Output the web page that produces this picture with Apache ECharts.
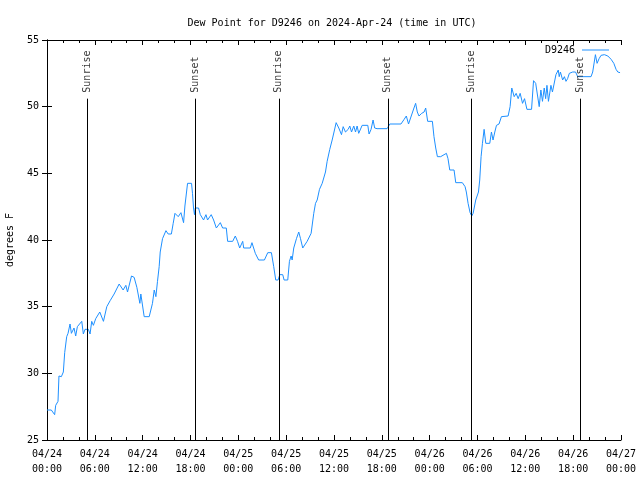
<!DOCTYPE html>
<html>
<head>
<meta charset="utf-8">
<script src="https://cdn.jsdelivr.net/npm/echarts@6/dist/echarts.min.js"></script>
<style>html,body{margin:0;padding:0;background:#fff;}#c{width:640px;height:480px;}</style>
</head>
<body>
<div id="c"></div>
<script>
// hours since 2024-04-24 00:00 UTC
var hours = [0.0,0.54,0.96,1.09,1.38,1.5,1.8,2.05,2.22,2.47,2.64,2.89,3.06,3.39,3.6,3.81,4.02,4.36,4.56,4.77,5.19,5.4,5.61,5.82,6.11,6.62,7.08,7.5,7.92,8.42,9.05,9.55,9.89,10.1,10.6,10.93,11.27,11.48,11.65,11.77,12.02,12.19,12.82,13.03,13.23,13.45,13.66,13.86,14.07,14.2,14.49,14.92,15.2,15.6,15.83,16.05,16.46,16.8,17.13,17.3,17.63,18.13,18.25,18.38,18.5,18.6,19.01,19.23,19.64,19.94,20.14,20.6,20.9,21.24,21.74,22.03,22.49,22.66,23.29,23.62,23.9,24.17,24.55,24.67,25.5,25.71,26.13,26.55,27.27,27.69,28.15,28.44,28.69,28.99,29.2,29.57,29.74,30.2,30.41,30.62,30.75,30.95,31.29,31.58,31.8,32.08,32.3,32.63,33.13,33.46,33.68,33.89,34.18,34.52,34.7,34.93,35.14,35.47,35.77,36.06,36.27,36.6,36.94,37.15,37.44,37.78,37.98,38.2,38.48,38.7,38.9,39.1,39.53,40.24,40.4,40.65,40.9,41.1,41.4,42.66,43.0,44.4,44.8,45.07,45.35,45.6,46.03,46.24,46.45,46.66,47.0,47.3,47.5,47.75,48.34,48.54,48.76,48.97,49.38,49.6,50.1,50.3,50.52,51.06,51.27,52.1,52.44,52.6,52.82,53.07,53.28,53.45,53.78,54.12,54.28,54.45,54.62,54.83,55.04,55.54,55.75,55.95,56.17,56.38,56.7,57.0,57.84,58.09,58.3,58.6,58.85,59.1,59.35,59.65,59.9,60.2,60.78,61.03,61.3,61.5,61.74,61.95,62.15,62.37,62.55,62.71,62.9,63.21,63.4,63.6,63.84,64.13,64.25,64.4,64.68,64.9,65.1,65.3,65.52,65.94,66.3,66.57,68.24,68.45,68.6,68.79,69.0,69.25,69.5,69.92,70.35,70.76,71.1,71.38,71.6,71.88];
var dewPoint = [27.25,27.25,26.9,27.6,27.9,29.8,29.75,30.1,31.55,32.75,33.0,33.7,33.0,33.4,32.8,33.5,33.5,33.9,32.95,33.3,33.3,32.95,33.9,33.6,34.1,34.6,33.9,35.0,35.45,35.95,36.7,36.25,36.6,36.1,37.3,37.2,36.45,36.4,35.25,35.95,36.0,34.25,34.25,34.4,35.25,36.25,35.75,36.9,38.0,39.1,40.1,40.7,40.45,40.45,41.25,42.0,41.75,42.05,41.3,42.55,44.25,44.25,43.5,42.4,41.9,42.4,42.4,41.9,41.5,41.9,41.5,41.9,41.5,40.9,41.3,40.9,40.9,39.9,39.9,40.3,39.9,39.4,39.9,39.4,39.4,39.8,39.0,38.5,38.5,39.05,39.05,38.0,37.0,37.0,37.4,37.4,37.0,37.0,38.4,38.8,38.5,39.4,40.1,40.6,40.1,39.4,39.45,39.9,40.5,42.0,42.75,43.0,43.8,44.25,44.3,45.1,45.9,46.8,47.5,48.25,48.8,48.4,47.9,48.5,48.1,48.3,48.55,48.1,48.55,48.1,48.55,48.0,48.6,48.6,47.95,48.3,49.0,48.4,48.35,48.35,48.7,48.7,49.05,49.3,48.7,48.7,49.9,50.25,49.6,49.3,49.5,49.6,49.9,48.9,48.9,47.75,46.9,46.25,46.25,46.3,46.5,46.1,45.25,45.25,44.3,44.3,44.0,43.6,42.75,42.05,41.8,42.0,43.0,43.6,44.5,46.25,47.25,48.3,47.25,47.25,48.1,47.5,48.1,48.6,48.7,49.25,49.3,50.0,51.4,50.75,51.0,50.6,51.0,50.25,50.6,49.8,49.8,51.95,51.75,51.7,50.0,51.25,50.4,51.4,50.6,51.6,50.4,51.6,51.1,51.25,52.4,52.75,52.25,52.6,52.0,52.25,51.9,52.1,52.5,52.6,52.6,52.25,52.25,52.6,52.5,53.9,53.25,53.6,53.85,53.9,53.8,53.55,53.25,52.8,52.6,52.55];
var sunEventHours = [5.06, 18.6, 29.07, 42.76, 53.19, 66.89];
var sunEventNames = ["Sunrise","Sunset","Sunrise","Sunset","Sunrise","Sunset"];
var yTicks = [25,30,35,40,45,50,55];

var FONT = "DejaVu Sans Mono";
var LINE_TOP = 50.6;

function fmtX(v){
  var day = 24 + Math.floor(v/24);
  var hh = v % 24;
  var dd = day < 10 ? "0"+day : ""+day;
  var h2 = hh < 10 ? "0"+hh : ""+hh;
  return "04/" + dd + "\n" + h2 + ":00";
}

var seriesData = hours.map(function(h,i){ return [h, dewPoint[i]]; });
var markData = sunEventHours.map(function(h){ return [{coord:[h,25]},{coord:[h,LINE_TOP]}]; });
var labelData = sunEventHours.map(function(h,i){ return {value:[h, LINE_TOP], name: sunEventNames[i]}; });

var axisCommon = {
  type:'value', min:0, max:72, interval:6,
  axisLine:{show:true, lineStyle:{color:'#000', width:1}},
  axisTick:{show:true, inside:true, length:5, lineStyle:{color:'#000'}},
  minorTick:{show:true, splitNumber:3, length:3, lineStyle:{color:'#000'}},
  splitLine:{show:false}
};
var yCommon = {
  type:'value', min:25, max:55, interval:5,
  axisLine:{show:true, lineStyle:{color:'#000', width:1}},
  axisTick:{show:true, inside:true, length:5, lineStyle:{color:'#000'}},
  splitLine:{show:false}
};

var chart = echarts.init(document.getElementById('c'), null, {renderer:'canvas'});
chart.setOption({
  animation:false,
  backgroundColor:'#fff',
  title:{
    text:'Dew Point for D9246 on 2024-Apr-24 (time in UTC)',
    left:327, top:13, textAlign:'center',
    textStyle:{fontFamily:FONT, fontSize:10, fontWeight:'normal', color:'#000'}
  },
  legend:{
    data:[{name:'D9246', icon:'rect'}], right:26, top:40, align:'right',
    itemWidth:27, itemHeight:1, itemGap:5,
    itemStyle:{color:'#1e90ff'},
    textStyle:{fontFamily:FONT, fontSize:10, color:'#000', padding:[0,2,0,0]}
  },
  grid:{left:47, right:19, top:40, bottom:40, outerBoundsMode:'none', containLabel:false},
  xAxis:[
    Object.assign({}, axisCommon, {position:'bottom',
      axisLabel:{show:true, formatter:fmtX, fontFamily:FONT, fontSize:10, color:'#000', lineHeight:15, margin:7}}),
    Object.assign({}, axisCommon, {position:'top', axisLabel:{show:false}})
  ],
  yAxis:[
    Object.assign({}, yCommon, {position:'left', name:'degrees F', nameLocation:'middle', nameGap:32, nameRotate:90,
      nameTextStyle:{fontFamily:FONT, fontSize:10, color:'#000'},
      axisLabel:{show:true, fontFamily:FONT, fontSize:10, color:'#000', margin:8}}),
    Object.assign({}, yCommon, {position:'right', axisLabel:{show:false}})
  ],
  series:[
    {
      name:'D9246', type:'line', data:seriesData, showSymbol:false, symbol:'none',
      lineStyle:{color:'#1e90ff', width:1}, itemStyle:{color:'#1e90ff'},
      z:3,
      markLine:{
        silent:true, symbol:['none','none'], animation:false,
        lineStyle:{color:'#000', width:1, type:'solid'},
        label:{show:false},
        data:markData
      }
    },
    {
      name:'events', type:'scatter', data:labelData, symbolSize:0, silent:true, z:4,
      label:{show:true, formatter:function(p){return p.name;}, position:'top', distance:6, rotate:90,
        align:'left', verticalAlign:'middle', fontFamily:FONT, fontSize:10, color:'#000'}
    }
  ]
});
</script>
</body>
</html>
